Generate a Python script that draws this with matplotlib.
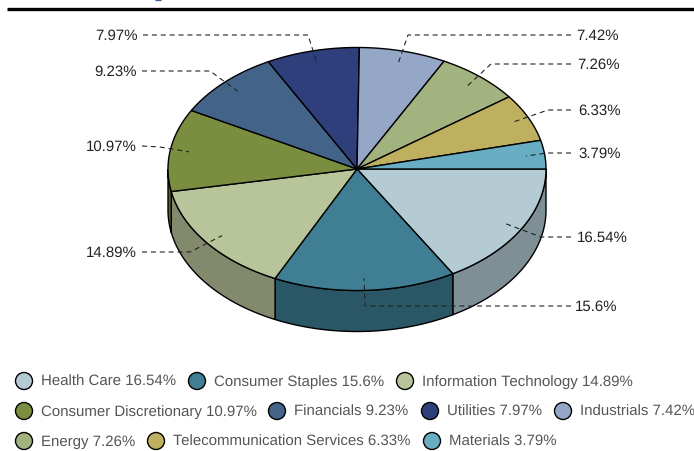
import numpy as np
import matplotlib
matplotlib.use('Agg')
import matplotlib.pyplot as plt
from matplotlib.patches import Polygon, Circle

plt.rcParams['font.family'] = ['Liberation Sans', 'DejaVu Sans']
plt.rcParams['text.hinting'] = 'no_hinting'
plt.rcParams['text.hinting_factor'] = 1

sectors = ['Health Care', 'Consumer Staples', 'Information Technology',
           'Consumer Discretionary', 'Financials', 'Utilities', 'Industrials',
           'Energy', 'Telecommunication Services', 'Materials']
shares = [16.54, 15.6, 14.89, 10.97, 9.23, 7.97, 7.42, 7.26, 6.33, 3.79]
share_labels = ['16.54%', '15.6%', '14.89%', '10.97%', '9.23%', '7.97%', '7.42%', '7.26%', '6.33%', '3.79%']
top_colors = ['#b5cbd4', '#3f7e93', '#b8c59a', '#7b8e3f', '#436389', '#2f3f7b',
              '#94a7c6', '#a3b37f', '#bfb05f', '#68adc2']
side_colors = ['#7f8f96', '#2a5766', '#82896c', '#57642c']

# pie geometry in pixels
cx, cy = 357, 169
rx, ry = 189, 121.5
depth = 41

# leader lines: elbow x,y then where the line ends beside the label
elbows = [(541, 237), (365, 306), (190, 252), (160, 147), (210, 71),
          (308, 35), (408, 35), (491, 64), (548, 110), (547, 153)]
line_ends = [(571, 237), (571, 306), (142, 252), (142, 146), (142, 71),
             (143, 35), (571, 35), (571, 64), (571, 110), (571, 153)]
# gap between line end and its label
label_gaps = [6, 4, 5, 5, 5, 5, 5, 6, 7, 7]

# legend layout, circle x and y for each sector
legend_x = [24, 197, 405, 24, 277, 430, 563, 24, 156, 432]
legend_y = [381, 381, 381, 411, 411, 411, 411, 441, 441, 441]

fig = plt.figure(figsize=(6.94, 4.51), dpi=100)
ax = fig.add_axes([0, 0, 1, 1])
ax.set_xlim(0, 694)
ax.set_ylim(451, 0)
ax.axis('off')

ax.plot([7, 694], [9, 9], color='black', lw=2.4, solid_capstyle='butt')
# bottom of the cut off title
ax.plot([155, 161], [0.3, 0.3], color='#3a5a96', lw=0.9, solid_capstyle='butt')


def rim(a0, a1, yoff=0):
    t = np.radians(np.linspace(a0, a1, 120))
    return np.column_stack([cx + rx*np.cos(t), cy + yoff + ry*np.sin(t)])


edges = np.cumsum([0] + shares) / sum(shares) * 360

# side wall, only the front half can be seen
for i in range(len(shares)):
    a0, a1 = edges[i], min(edges[i+1], 180)
    if a0 >= 180:
        continue
    pts = np.vstack([rim(a0, a1), rim(a0, a1, depth)[::-1]])
    ax.add_patch(Polygon(pts, closed=True, fc=side_colors[i], ec='black', lw=1.0, zorder=2))

# top of the pie
for i in range(len(shares)):
    pts = np.vstack([[cx, cy], rim(edges[i], edges[i+1])])
    ax.add_patch(Polygon(pts, closed=True, fc=top_colors[i], ec='black', lw=1.0, zorder=3))

# leader lines and labels, drawn from the label towards the pie
for i in range(len(shares)):
    mid = np.radians((edges[i] + edges[i+1]) / 2)
    sx = cx + 0.9*rx*np.cos(mid)
    sy = cy + 0.9*ry*np.sin(mid)
    ex, ey = elbows[i]
    lx, ly = line_ends[i]
    ax.plot([lx, ex, sx], [ly, ey, sy], color='#222222', lw=0.8, dashes=(4.5, 3.5), zorder=4)
    if lx > cx:
        ax.text(lx + label_gaps[i], ly + 1, share_labels[i], ha='left', va='center', fontsize=11.1, color='#222222')
    else:
        ax.text(lx - label_gaps[i], ly + 1, share_labels[i], ha='right', va='center', fontsize=11.1, color='#222222')

# legend
for i in range(len(shares)):
    ax.add_patch(Circle((legend_x[i], legend_y[i]), 8.5, fc=top_colors[i], ec='black', lw=1.0))
    ax.text(legend_x[i] + 17, legend_y[i] + 1, sectors[i] + ' ' + share_labels[i], ha='left', va='center',
            fontsize=10.8, color='#555555')

fig.savefig('out.png', dpi=100)
